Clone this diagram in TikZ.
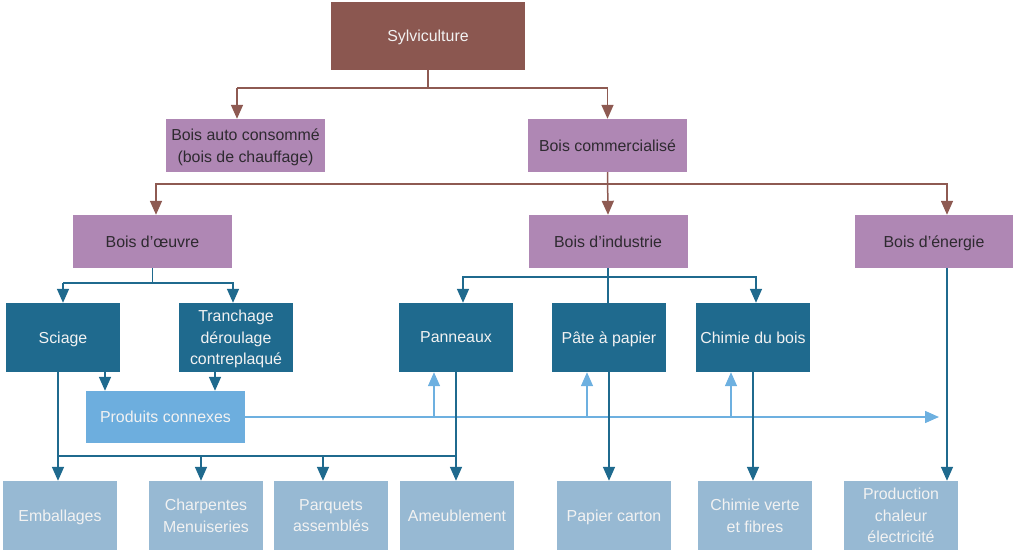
\documentclass[tikz,border=0pt]{standalone}
\usepackage{fontspec}
\setmainfont{Liberation Sans}
\usetikzlibrary{arrows.meta}
\definecolor{brn}{HTML}{8B5750}
\definecolor{brnl}{HTML}{8E5A52}
\definecolor{pur}{HTML}{AF87B4}
\definecolor{dbl}{HTML}{1F6A8E}
\definecolor{lbl}{HTML}{6DAEDE}
\definecolor{lbll}{HTML}{6DB0E0}
\definecolor{gbl}{HTML}{97B9D3}
\definecolor{txtd}{HTML}{2E2A30}
\definecolor{txtw}{HTML}{F2F2F2}
\begin{document}
\begin{tikzpicture}[x=1pt,y=-1pt,
  box/.style={inner sep=0pt,align=center,text depth=0pt,font=\fontsize{15.9}{21.5}\selectfont},
  brownbox/.style={box,fill=brn,text=txtw,minimum width=194pt,minimum height=68pt},
  purbox/.style={box,fill=pur,text=txtd,minimum width=159pt,minimum height=53pt},
  darkbox/.style={box,fill=dbl,text=txtw,minimum width=114pt,minimum height=69pt},
  lightbox/.style={box,fill=lbl,text=txtw,minimum width=159pt,minimum height=52pt},
  greybox/.style={box,fill=gbl,text=txtw,minimum width=114pt,minimum height=69pt},
  tipb/.style={-{Triangle[length=14pt,width=12pt]}},
  brline/.style={draw=brnl,line width=1.5pt},
  blline/.style={draw=dbl,line width=1.5pt},
  lbline/.style={draw=lbll,line width=1.5pt}]
\useasboundingbox (0,0) rectangle (1013,550);

% nodes
\node[brownbox] (syl) at (428,36) {Sylviculture};
\node[purbox] (auto) at (245.5,145.5) {Bois auto consommé\\(bois de chauffage)};
\node[purbox] (comm) at (607.5,145.5) {Bois commercialisé};
\node[purbox] (oeuvre) at (152.5,241.5) {Bois d’œuvre};
\node[purbox] (ind) at (608,241.5) {Bois d’industrie};
\node[purbox,minimum width=158pt] (ener) at (934,241.5) {Bois d’énergie};
\node[darkbox] (sciage) at (63,337.5) {Sciage};
\node[darkbox] (tranch) at (236,337.5) {Tranchage\\déroulage\\contreplaqué};
\node[darkbox] (pann) at (456,337.5) {Panneaux};
\node[darkbox] (pate) at (609,337.5) {Pâte à papier};
\node[darkbox] (chim) at (753,337.5) {Chimie du bois};
\node[lightbox] (prod) at (165.5,417) {Produits connexes};
\node[greybox] (emb) at (60,515.5) {Emballages};
\node[greybox] (charp) at (206,515.5) {Charpentes\\Menuiseries};
\node[greybox] (parq) at (331,515.5) {Parquets\\assemblés};
\node[greybox] (ameu) at (457,515.5) {Ameublement};
\node[greybox] (papier) at (614,515.5) {Papier carton};
\node[greybox] (cverte) at (755,515.5) {Chimie verte\\et fibres};
\node[greybox] (prodn) at (901,515.5) {Production\\chaleur\\électricité};

% helper coordinates
\coordinate (ya) at (0,88);
\coordinate (xa) at (237,0);
\coordinate (yb) at (0,184);
\coordinate (xo) at (156,0);
\coordinate (xe) at (947,0);
\coordinate (yc) at (0,283);
\coordinate (xt) at (233,0);
\coordinate (xs2) at (105,0);
\coordinate (xt2) at (215,0);
\coordinate (yd) at (0,277);
\coordinate (xp) at (463,0);
\coordinate (xc) at (756,0);
\coordinate (xf) at (939,0);
\coordinate (xu1) at (434,0);
\coordinate (xu2) at (587,0);
\coordinate (xu3) at (731,0);
\coordinate (xsd) at (58,0);
\coordinate (ye) at (0,456);
\coordinate (xch) at (201,0);
\coordinate (xpq) at (323,0);

% brown connectors
\draw[brline] (syl.south) -- (syl.south |- ya);
\draw[brline,tipb] (xa |- ya) -- (xa |- auto.north);
\draw[brline,tipb] (xa |- ya) -- (comm.north |- ya) -- (comm.north);
\draw[brline,tipb] (comm.south) -- (ind.north);
\draw[brline,tipb] (comm.south |- yb) -- (xo |- yb) -- (xo |- oeuvre.north);
\draw[brline,tipb] (comm.south |- yb) -- (xe |- yb) -- (xe |- ener.north);

% light blue connectors
\draw[lbline,tipb] (prod.east) -- (xf |- prod.east);
\draw[lbline,tipb] (xu1 |- prod.east) -- (xu1 |- pann.south);
\draw[lbline,tipb] (xu2 |- prod.east) -- (xu2 |- pate.south);
\draw[lbline,tipb] (xu3 |- prod.east) -- (xu3 |- chim.south);

% dark blue connectors
\draw[blline] (oeuvre.south) -- (oeuvre.south |- yc);
\draw[blline,tipb] (sciage.north |- yc) -- (xt |- yc) -- (xt |- tranch.north);
\draw[blline,tipb] (sciage.north |- yc) -- (sciage.north);
\draw[blline,tipb] (xs2 |- sciage.south) -- (xs2 |- prod.north);
\draw[blline,tipb] (xt2 |- tranch.south) -- (xt2 |- prod.north);
\draw[blline] (ind.south) -- (ind.south |- pate.north);
\draw[blline,tipb] (ind.south |- yd) -- (xp |- yd) -- (xp |- pann.north);
\draw[blline,tipb] (ind.south |- yd) -- (xc |- yd) -- (xc |- chim.north);
\draw[blline,tipb] (xsd |- sciage.south) -- (xsd |- emb.north);
\draw[blline] (xsd |- ye) -- (pann.south |- ye);
\draw[blline,tipb] (pann.south) -- (pann.south |- ameu.north);
\draw[blline,tipb] (xch |- ye) -- (xch |- charp.north);
\draw[blline,tipb] (xpq |- ye) -- (xpq |- parq.north);
\draw[blline,tipb] (pate.south) -- (pate.south |- papier.north);
\draw[blline,tipb] (chim.south) -- (chim.south |- cverte.north);
\draw[blline,tipb] (xe |- ener.south) -- (xe |- prodn.north);
\end{tikzpicture}
\end{document}
